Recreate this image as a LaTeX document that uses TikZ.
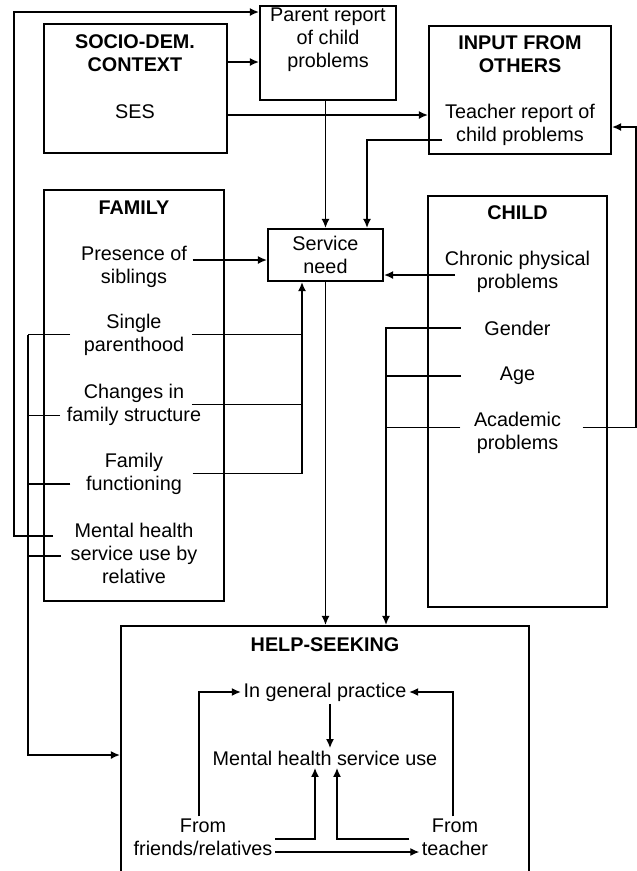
\documentclass[tikz,border=0pt]{standalone}
\usepackage{fontspec}
\setmainfont{Liberation Sans}
\usetikzlibrary{positioning,arrows.meta}

\begin{document}
\begin{tikzpicture}[-{Latex[length=9pt,width=8pt]} ,x=1pt ,y=-1pt ,node distance =23pt and 10pt ,on grid ,line width=1.4pt,
box/.style ={ draw ,line width=2.2pt},
item/.style ={ align=center ,inner sep=2pt ,font=\fontsize{19.8}{23}\selectfont},
heading/.style ={ item ,font=\fontsize{19.8}{23}\selectfont\bfseries}]
\useasboundingbox (0,0) rectangle (637,871);

% boxes
\node[box ,minimum width=183pt ,minimum height=129pt] (SocioBox) at (135.5,88.5) {};
\node[box ,minimum width=136pt ,minimum height=94pt] (ParentBox) at (328,53) {};
\node[box ,minimum width=182pt ,minimum height=128pt] (InputBox) at (520,90) {};
\node[box ,item ,minimum width=115pt ,minimum height=52pt] (NeedBox) at (325.5,255) {Service\\need};
\node[box ,minimum width=180pt ,minimum height=411pt] (FamilyBox) at (134,395.5) {};
\node[box ,minimum width=179pt ,minimum height=411pt] (ChildBox) at (517.5,401.5) {};
\node[box ,minimum width=408pt ,minimum height=274pt] (HelpBox) at (325,763) {};

% texts
\node[heading] (SocioTitle) at (135,53.5) {SOCIO-DEM.\\CONTEXT};
\node[item] (SES) at (135,112) {SES};
\node[item] (ParentReport) at (328,39.5) {Parent report\\of child\\problems};
\node[heading] (InputTitle) at (520,54) {INPUT FROM\\OTHERS};
\node[item] (TeacherReport) at (520,125) {Teacher report of\\child problems};

\node[heading] (FamilyTitle) at (134,208) {FAMILY};
\node[item] (Siblings) at (134,266.5) {Presence of\\siblings};
\node[item] (SingleParent) at (134,334.5) {Single\\parenthood};
\node[item] (FamilyChange) at (134,404.5) {Changes in\\family structure};
\node[item] (FamilyFunction) at (134,473.5) {Family\\functioning};
\node[item] (RelativeUse) at (134,553) {Mental health\\service use by\\relative};

\node[heading] (ChildTitle) at (517.5,213) {CHILD};
\node[item] (Chronic) at (517.5,271.5) {Chronic physical\\problems};
\node[item] (Gender) [below=56.5pt of Chronic] {Gender};
\node[item] (Age) [below=48pt of Gender] {Age};
\node[item] (Academic) [below=57pt of Age] {Academic\\problems};

\node[heading] (HelpTitle) at (325,645) {HELP-SEEKING};
\node[item] (GeneralPractice) at (325,692) {In general practice};
\node[item] (MentalHealth) at (325,758) {Mental health service use};
\node[item] (FromFriends) at (203,837.5) {From\\friends/relatives};
\node[item] (FromTeacher) at (455,837.5) {From\\teacher};

% turning points
\coordinate (OuterCorner) at (14,12);
\coordinate (FamSpine) at (28,755);
\coordinate (NeedIn) at ([xshift=-23.5pt]NeedBox.south);
\coordinate (ChildDrop) at ([xshift=61pt]HelpBox.north);
\coordinate (AcademicTurn) at (636,127);

% context and reports
\draw (SocioBox.east |- 0,62) -- (ParentBox.west |- 0,62);
\draw (SocioBox.east |- 0,115) -- (InputBox.west |- 0,115);
\draw (ParentBox.south -| NeedBox.north) -- (NeedBox.north);
\draw (TeacherReport.west |- 0,140) -| ([xshift=41.5pt]NeedBox.north);

% family to service need
\draw ([xshift=3pt]Siblings.east |- 0,260) -- (NeedBox.west |- 0,260);
\draw[-] ([xshift=5pt]SingleParent.east) -- (SingleParent.east -| NeedIn);
\draw[-] ([xshift=-12pt]FamilyChange.east) -- (FamilyChange.east -| NeedIn);
\draw ([xshift=8pt]FamilyFunction.east) -| (NeedIn);

% family to help-seeking
\draw (SingleParent.west -| FamSpine) -- (FamSpine) -- (FamSpine -| HelpBox.west);
\draw[-] ([xshift=-11pt]SingleParent.west) -- (SingleParent.west -| FamSpine);
\draw[-] ([xshift=-4pt ,yshift=-11pt]FamilyChange.west) -- ([yshift=-11pt]FamilyChange.west -| FamSpine);
\draw[-] ([xshift=-13pt ,yshift=-10.5pt]FamilyFunction.west) -- ([yshift=-10.5pt]FamilyFunction.west -| FamSpine);
\draw[-] ([xshift=-7pt ,yshift=-3pt]RelativeUse.west) -- ([yshift=-3pt]RelativeUse.west -| FamSpine);
\draw ([xshift=-15pt ,yshift=17pt]RelativeUse.west) -| (OuterCorner) -- (OuterCorner -| ParentBox.west);

% child
\draw ([xshift=13pt]Chronic.west |- 0,275) -- (NeedBox.east |- 0,275);
\draw ([xshift=-21pt]Gender.west) -| (ChildDrop);
\draw[-] ([xshift=-36pt]Age.west) -- (Age.west -| ChildDrop);
\draw[-] ([xshift=-11pt ,yshift=5.5pt]Academic.west) -- ([yshift=5.5pt]Academic.west -| ChildDrop);
\draw ([xshift=19pt ,yshift=5.5pt]Academic.east) -| (AcademicTurn) -- (InputBox.east |- AcademicTurn);
\draw (NeedBox.south) -- (NeedBox.south |- HelpBox.north);

% inside help-seeking
\draw ([xshift=-4pt]FromFriends.north) |- (GeneralPractice.west);
\draw ([xshift=-2pt]FromTeacher.north) |- (GeneralPractice.east);
\draw ([xshift=5pt]GeneralPractice.south) -- ([xshift=5pt]MentalHealth.north);
\draw ([yshift=-1.5pt]FromFriends.east) -| ([xshift=-10pt]MentalHealth.south);
\draw ([xshift=-10pt ,yshift=-1.5pt]FromTeacher.west) -| ([xshift=12pt]MentalHealth.south);
\draw ([yshift=-14.5pt]FromFriends.east) -- ([yshift=-14.5pt]FromTeacher.west);
\end{tikzpicture}
\end{document}
